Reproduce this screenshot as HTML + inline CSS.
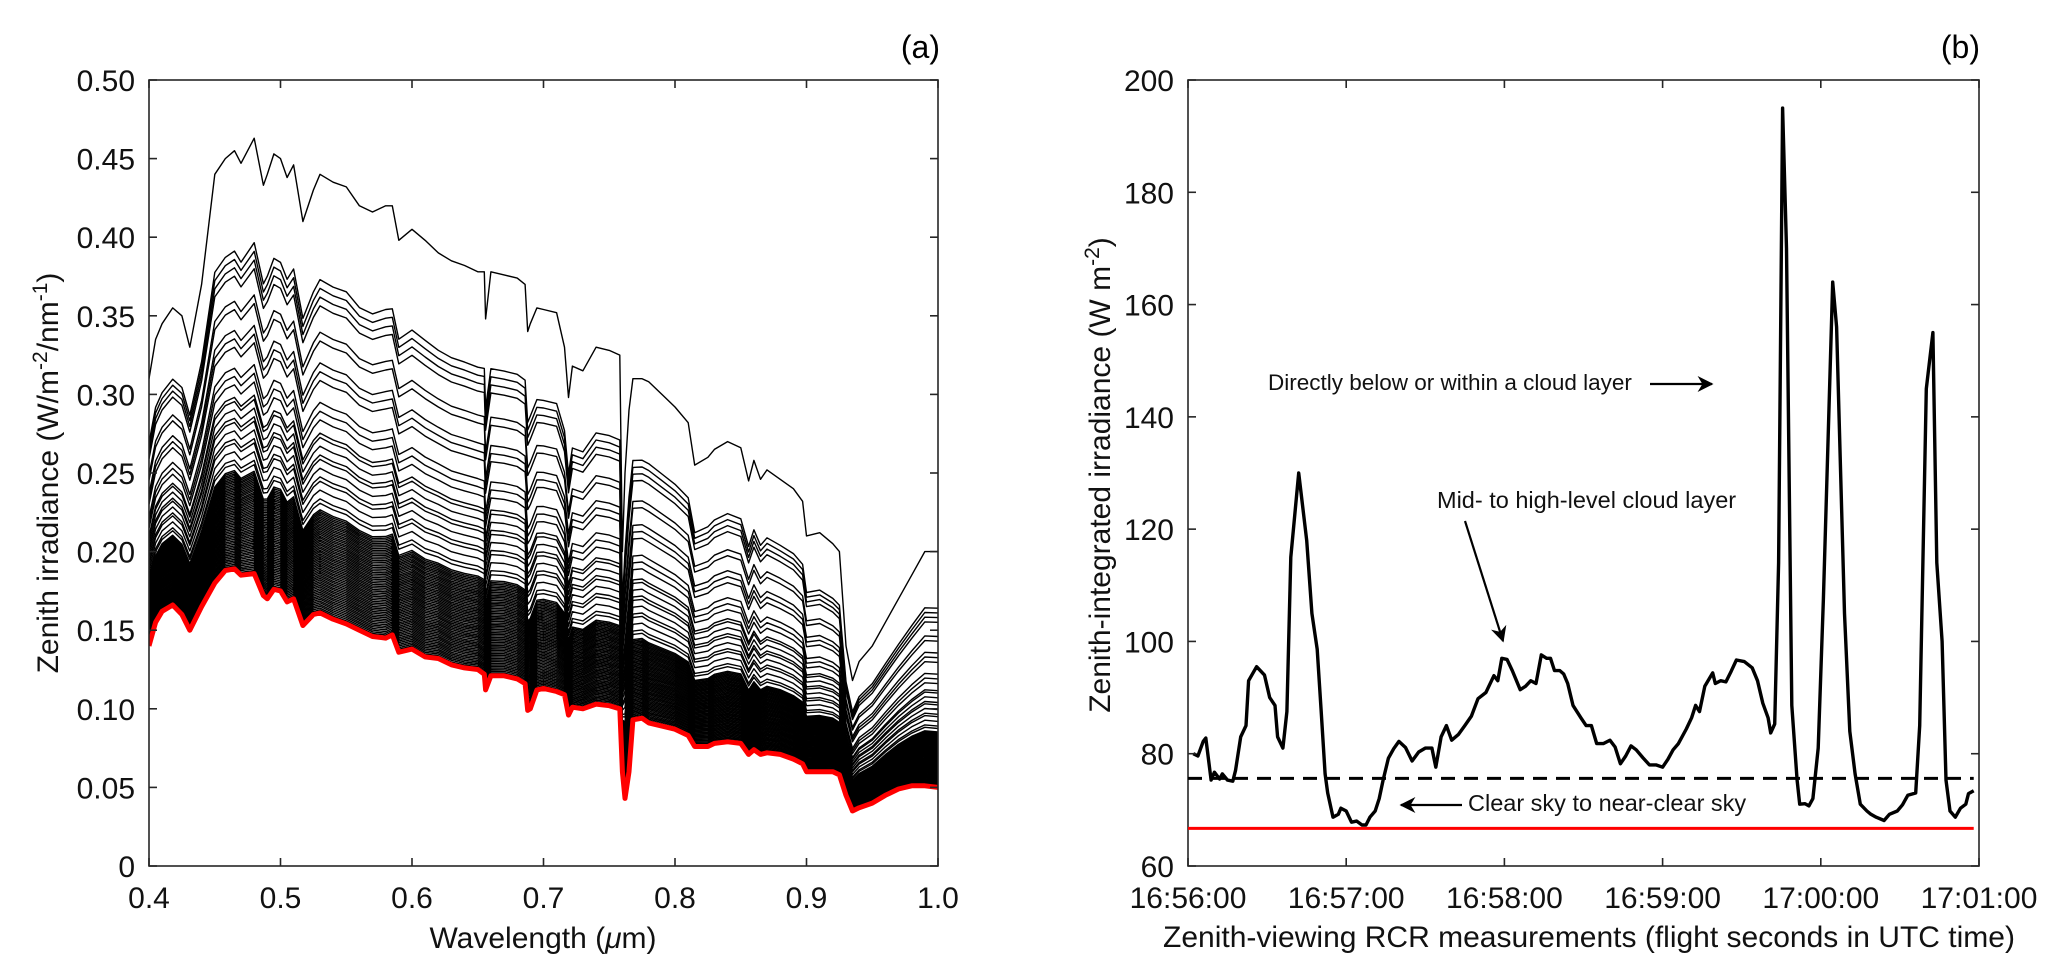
<!DOCTYPE html>
<html><head><meta charset="utf-8"><style>
html,body{margin:0;padding:0;background:#fff;}
svg{display:block;font-family:"Liberation Sans",Arial,sans-serif;}
</style></head><body>
<svg id="fig" width="2067" height="978" viewBox="0 0 2067 978" xmlns="http://www.w3.org/2000/svg">
<rect width="2067" height="978" fill="#fff"/>
<g id="pa"></g>
<g id="pb"></g>
</svg>
<script>
// ---------- Panel (a) data ----------
const wavelengths = [0.400,0.405,0.41,0.418,0.425,0.431,0.44,0.45,0.458,0.465,0.47,0.48,0.487,0.49,0.495,0.5,0.505,0.51,0.517,0.525,0.53,0.54,0.55,0.56,0.57,0.58,0.585,0.59,0.6,0.61,0.62,0.63,0.64,0.65,0.655,0.656,0.66,0.67,0.68,0.686,0.688,0.69,0.695,0.7,0.71,0.716,0.719,0.722,0.73,0.74,0.75,0.758,0.76,0.762,0.765,0.768,0.775,0.78,0.79,0.8,0.81,0.815,0.825,0.83,0.84,0.85,0.856,0.86,0.865,0.87,0.88,0.89,0.897,0.9,0.91,0.92,0.925,0.93,0.935,0.94,0.95,0.96,0.97,0.98,0.99,1.0];
const clearSpectrum = [0.140,0.155,0.162,0.166,0.160,0.150,0.165,0.180,0.188,0.189,0.185,0.186,0.172,0.170,0.176,0.175,0.168,0.170,0.153,0.160,0.161,0.157,0.154,0.150,0.146,0.145,0.147,0.136,0.138,0.133,0.132,0.128,0.126,0.125,0.122,0.112,0.121,0.121,0.119,0.116,0.099,0.100,0.112,0.113,0.111,0.109,0.096,0.101,0.100,0.103,0.102,0.100,0.060,0.043,0.060,0.093,0.094,0.091,0.089,0.087,0.083,0.076,0.076,0.078,0.079,0.078,0.071,0.074,0.071,0.072,0.071,0.068,0.065,0.060,0.060,0.060,0.058,0.045,0.035,0.037,0.040,0.045,0.049,0.051,0.051,0.050];
const cloudySpectrum = [0.310,0.335,0.345,0.355,0.350,0.330,0.370,0.440,0.450,0.455,0.447,0.463,0.433,0.440,0.453,0.450,0.438,0.446,0.410,0.430,0.440,0.435,0.432,0.420,0.416,0.420,0.420,0.398,0.405,0.398,0.390,0.385,0.382,0.378,0.378,0.348,0.378,0.376,0.374,0.370,0.340,0.345,0.355,0.354,0.352,0.330,0.298,0.318,0.315,0.330,0.328,0.325,0.200,0.250,0.290,0.310,0.310,0.308,0.300,0.292,0.282,0.255,0.260,0.265,0.270,0.266,0.245,0.258,0.246,0.252,0.246,0.240,0.232,0.210,0.212,0.205,0.200,0.140,0.118,0.130,0.140,0.155,0.170,0.185,0.200,0.200];
const curveWeights = [1,0.76,0.74,0.72,0.70,0.64,0.62,0.57,0.55,0.53,0.48,0.46,0.44,0.41,0.40,0.38,0.36,0.35,0.33,0.31,0.30,0.28,0.26,0.25,
0.235,0.231,0.227,0.223,0.219,0.215,0.211,0.207,0.203,0.199,0.195,0.191,0.187,0.183,0.179,0.175,0.171,0.167,0.163,0.159,0.155,0.151,0.147,0.143,0.139,0.135,0.131,0.127,0.123,0.119,0.115,0.111,0.107,0.103,0.099,0.095,0.091,0.087,0.083,0.079,0.075,0.071,0.067,0.063,0.059,0.055,0.051,0.047,0.043,0.039,0.035,0.031,0.027,0.023,0.019,0.015,0.011,0.007];
const xTicksA = ["0.4","0.5","0.6","0.7","0.8","0.9","1.0"];
const yTicksA = ["0","0.05","0.10","0.15","0.20","0.25","0.30","0.35","0.40","0.45","0.50"];

// ---------- Panel (b) data ----------
const timeSec = [2,3.75,5.75,6.75,8.75,10,12,13,15,17,18,20,22,23,26,29,31,33,34,36,37.5,39,42,45,47,49,50.5,52,53,55,57,58,60,62,64,66,67.5,69,71,72.5,74,76,78,80,82.5,85,87.5,90,92.5,94,96,98,100,102.5,105,107.5,110,113,116,117.5,119,121,123,126,128,130,132,134,136,137.5,139,141,142.5,144,146,149,151,153,155,157.5,160,162,164,166,168,170,172.5,175,177.5,180,182,184,186,189,191,192.5,194,196,199,200,202,204,206,208,211,214,216,218,220,221,222.5,224,225.5,227,229,231,232,234,235.5,237,239,241,244.5,246,249,251,253,255,257.5,259,261,264,266,269,271,273,276,277.5,280,282.5,284,286,287.5,289,291,293,295,296,298];
const irradiance = [80,79.6,82.2,82.8,75.3,76.7,75.5,76.4,75.3,75.1,77,83,85,93,95.5,94,90,88.6,83,81,87.5,115,130,118,105,98.6,87.5,76.4,73,68.7,69.2,70.3,69.8,67.8,68,67.3,67.3,68.7,69.8,72,75.3,79.2,80.9,82.2,81.1,78.7,80.3,81,81,77.6,83,85,82.4,83.4,85,86.7,89.8,90.9,93.9,93,97,96.8,94.8,91.4,92,93,92.5,97.6,97,97,94.8,94.8,94.2,92.5,88.6,86.4,85,85,81.8,81.8,82.4,81.2,78.2,79.6,81.4,80.7,79.3,78,78,77.6,79,80.7,81.8,84.4,86.4,88.6,87.5,92,94.4,92.5,93,92.8,94.7,96.7,96.4,95.3,93,89,86.4,83.7,85.3,114,195,170,88.6,75.3,71,71.1,70.7,72,81,107.6,164,156,105,84,76.4,71,69.8,69.2,68.7,68.1,69.2,69.8,70.9,72.6,73,85,145,155,114,100,75.3,69.8,68.7,70.3,71,72.9,73.4];
const thresholdLevel = 75.6;
const clearSkyLevel = 66.7;
const xTickSecB = [0,60,120,180,240,300];
const xTicksB = ["16:56:00","16:57:00","16:58:00","16:59:00","17:00:00","17:01:00"];
const yTicksB = ["60","80","100","120","140","160","180","200"];

const NS = "http://www.w3.org/2000/svg";
function mk(tag, attrs, parent, text){
  const e = document.createElementNS(NS, tag);
  for (const k in attrs) e.setAttribute(k, attrs[k]);
  if (text !== undefined) e.textContent = text;
  parent.appendChild(e);
  return e;
}
const AX = "#262626";

function frame(g, L, R, T, B){
  const r = mk("rect", {x:L, y:T, width:R-L, height:B-T, fill:"none", stroke:AX, "stroke-width":1.6}, g);
  
  
}

// ---------- Panel (a) ----------
(function(){
  const g = document.getElementById("pa");
  const L=149, R=938, T=80, B=866;
  const sx = v => L + (v-0.4)/0.6*(R-L);
  const sy = v => B - v/0.5*(B-T);
  const clip = mk("clipPath", {id:"clipA"}, g);
  mk("rect", {x:L, y:T, width:R-L, height:B-T}, clip);
  const lines = mk("g", {"clip-path":"url(#clipA)"}, g);
  
  
  for (let c = curveWeights.length-1; c >= 0; c--){
    const w = curveWeights[c];
    let d = "";
    for (let i=0;i<wavelengths.length;i++){
      const v = clearSpectrum[i] + w*(cloudySpectrum[i]-clearSpectrum[i]);
      d += (i?"L":"M") + sx(wavelengths[i]).toFixed(1) + "," + sy(v).toFixed(1);
    }
    const p = mk("path", {d:d, fill:"none", stroke:"#000", "stroke-width":1.4, "stroke-linejoin":"round"}, lines);
    
    
  }
  let d = "";
  for (let i=0;i<wavelengths.length;i++) d += (i?"L":"M") + sx(wavelengths[i]).toFixed(1) + "," + sy(clearSpectrum[i]).toFixed(1);
  const red = mk("path", {d:d, fill:"none", stroke:"#ff0000", "stroke-width":5, "stroke-linejoin":"round"}, lines);
  
  
  frame(g, L, R, T, B);
  xTicksA.forEach(t => {
    const x = sx(parseFloat(t));
    mk("line", {x1:x, y1:B, x2:x, y2:B-8, stroke:AX, "stroke-width":1.6}, g);
    mk("line", {x1:x, y1:T, x2:x, y2:T+8, stroke:AX, "stroke-width":1.6}, g);
    const tx = mk("text", {x:x, y:908, "font-size":30, "text-anchor":"middle", fill:"#111"}, g, t);
    
    
  });
  yTicksA.forEach(t => {
    const y = sy(parseFloat(t));
    mk("line", {x1:L, y1:y, x2:L+8, y2:y, stroke:AX, "stroke-width":1.6}, g);
    mk("line", {x1:R, y1:y, x2:R-8, y2:y, stroke:AX, "stroke-width":1.6}, g);
    const tx = mk("text", {x:135, y:y+11, "font-size":30, "text-anchor":"end", fill:"#111"}, g, t);
    
    
  });
})();

// ---------- Panel (b) ----------
(function(){
  const g = document.getElementById("pb");
  const L=1188, R=1979, T=80, B=866;
  const sx = s => L + s/300*(R-L);
  const sy = v => B - (v-60)/140*(B-T);
  frame(g, L, R, T, B);
  const th = mk("line", {x1:L, y1:sy(thresholdLevel), x2:sx(298), y2:sy(thresholdLevel), stroke:"#000", "stroke-width":3, "stroke-dasharray":"14,9"}, g);
  
  
  const cs = mk("line", {x1:L, y1:sy(clearSkyLevel), x2:sx(298), y2:sy(clearSkyLevel), stroke:"#ff0000", "stroke-width":3}, g);
  
  
  let d = "";
  for (let i=0;i<timeSec.length;i++) d += (i?"L":"M") + sx(timeSec[i]).toFixed(1) + "," + sy(irradiance[i]).toFixed(1);
  const ln = mk("path", {d:d, fill:"none", stroke:"#000", "stroke-width":3.4, "stroke-linejoin":"round"}, g);
  
  
  xTicksB.forEach((t,i) => {
    const x = sx(xTickSecB[i]);
    mk("line", {x1:x, y1:B, x2:x, y2:B-8, stroke:AX, "stroke-width":1.6}, g);
    mk("line", {x1:x, y1:T, x2:x, y2:T+8, stroke:AX, "stroke-width":1.6}, g);
    const tx = mk("text", {x:x, y:908, "font-size":30, "text-anchor":"middle", fill:"#111"}, g, t);
    
    
  });
  yTicksB.forEach(t => {
    const y = sy(parseFloat(t));
    mk("line", {x1:L, y1:y, x2:L+8, y2:y, stroke:AX, "stroke-width":1.6}, g);
    mk("line", {x1:R, y1:y, x2:R-8, y2:y, stroke:AX, "stroke-width":1.6}, g);
    const tx = mk("text", {x:1174, y:y+11, "font-size":30, "text-anchor":"end", fill:"#111"}, g, t);
    
    
  });
})();
</script>
<svg width="2067" height="978" viewBox="0 0 2067 978" style="position:absolute;left:0;top:0;font-family:'Liberation Sans',Arial,sans-serif">
<defs>
<marker id="ah2" viewBox="0 0 10 10" refX="9" refY="5" markerWidth="16" markerHeight="16" markerUnits="userSpaceOnUse" orient="auto"><path d="M0,0 L10,5 L0,10 L3,5 z" fill="#000"/></marker>
</defs>
<text x="940" y="58" font-size="32" text-anchor="end">(a)</text>
<text x="1980" y="58" font-size="32" text-anchor="end">(b)</text>
<text x="543" y="948" font-size="30" text-anchor="middle" fill="#111">Wavelength (<tspan font-style="italic">μ</tspan>m)</text>
<text transform="translate(58,473) rotate(-90)" font-size="30" text-anchor="middle" fill="#111">Zenith irradiance (W/m<tspan dy="-11" font-size="21">-2</tspan><tspan dy="11">/nm</tspan><tspan dy="-11" font-size="21">-1</tspan><tspan dy="11">)</tspan></text>
<text x="1589" y="947" font-size="30" text-anchor="middle" fill="#111">Zenith-viewing RCR measurements (flight seconds in UTC time)</text>
<text transform="translate(1110,475) rotate(-90)" font-size="30" text-anchor="middle" fill="#111">Zenith-integrated irradiance (W m<tspan dy="-11" font-size="21">-2</tspan><tspan dy="11">)</tspan></text>
<text x="1268" y="390" font-size="22.5" fill="#111">Directly below or within a cloud layer</text>
<line x1="1650" y1="384" x2="1712" y2="384" stroke="#000" stroke-width="2.2" marker-end="url(#ah2)"/>
<text x="1437" y="508" font-size="23.5" fill="#111">Mid- to high-level cloud layer</text>
<line x1="1465" y1="521" x2="1503" y2="641" stroke="#000" stroke-width="2.2" marker-end="url(#ah2)"/>
<text x="1468" y="811" font-size="23.5" fill="#111">Clear sky to near-clear sky</text>
<line x1="1462" y1="805" x2="1401" y2="805" stroke="#000" stroke-width="2.2" marker-end="url(#ah2)"/>
</svg>
</body></html>
